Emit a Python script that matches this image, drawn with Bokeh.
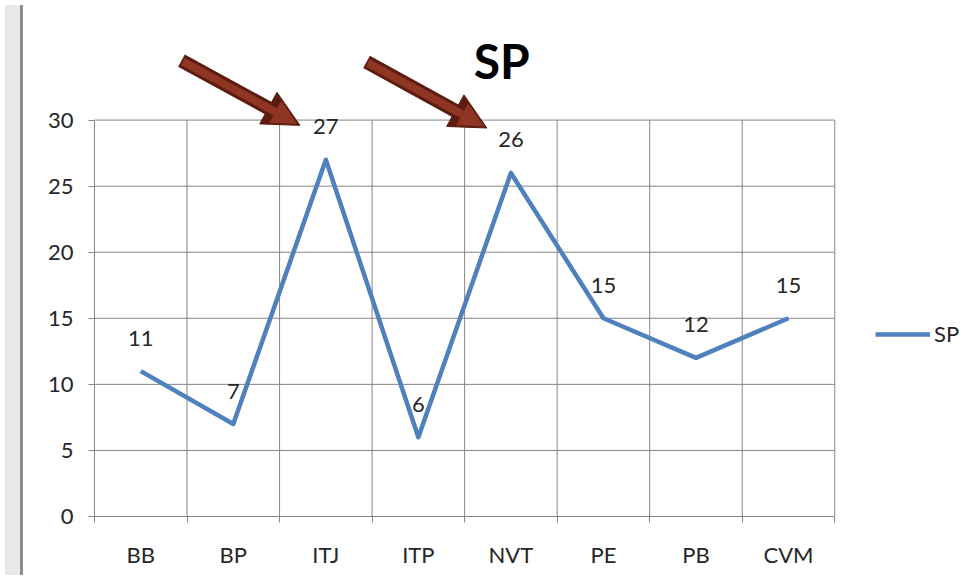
from bokeh.plotting import figure
from bokeh.models import (Range1d, FixedTicker, ColumnDataSource, LabelSet, Label,
                          Arrow, NormalHead, Legend, LegendItem, Div)
from bokeh.layouts import row
from bokeh.core.properties import value
from bokeh.embed import file_html
from bokeh.resources import INLINE

# ---- data ----
categories = ["BB", "BP", "ITJ", "ITP", "NVT", "PE", "PB", "CVM"]
sp_values = [11, 7, 27, 6, 26, 15, 12, 15]
y_ticks = [0, 5, 10, 15, 20, 25, 30]
series_name = "SP"
chart_title = "SP"

FONT = "Lato"
GRID = "#868686"
TXT = "#262626"

n = len(categories)
y_max = y_ticks[-1]
xpos = [i + 0.5 for i in range(n)]
src = ColumnDataSource(dict(x=xpos, y=sp_values, label=[str(v) for v in sp_values]))

# frame is extended beyond the data area so that the title, arrows and legend can be drawn
p = figure(width=946, height=570, output_backend="svg", toolbar_location=None, title=None,
           x_range=Range1d(0, 9.51), y_range=Range1d(0, 39.05),
           min_border_left=66, min_border_right=0, min_border_top=0,
           min_border_bottom=52)
p.background_fill_color = "white"
p.border_fill_color = "white"
p.outline_line_color = None
p.xgrid.visible = False
p.ygrid.visible = False

# gridlines (data area only)
bounds_x = list(range(n + 1))
gy = y_ticks[1:]
p.segment(x0=[0] * len(gy), x1=[n] * len(gy), y0=gy, y1=gy, line_color=GRID, line_width=1)
p.segment(x0=bounds_x[1:], x1=bounds_x[1:], y0=[0] * n, y1=[y_max] * n,
          line_color=GRID, line_width=1)

# x axis: labels at category centres, ticks at boundaries
p.xaxis.bounds = (0, n)
p.xaxis.ticker = FixedTicker(ticks=xpos, minor_ticks=bounds_x)
p.xaxis.major_label_overrides = {x: c for x, c in zip(xpos, categories)}
p.xaxis.major_tick_out = 0
p.xaxis.major_tick_in = 0
p.xaxis.minor_tick_out = 6
p.xaxis.minor_tick_in = 0
p.xaxis.minor_tick_line_color = GRID
p.xaxis.axis_line_color = GRID
p.xaxis.major_label_text_font = FONT
p.xaxis.major_label_text_font_size = "22px"
p.xaxis.major_label_text_color = TXT
p.xaxis.major_label_standoff = 18

p.yaxis.bounds = (0, y_max)
p.yaxis.ticker = FixedTicker(ticks=y_ticks)
p.yaxis.major_tick_out = 6
p.yaxis.major_tick_in = 0
p.yaxis.minor_tick_line_color = None
p.yaxis.major_tick_line_color = GRID
p.yaxis.axis_line_color = GRID
p.yaxis.major_label_text_font = FONT
p.yaxis.major_label_text_font_size = "22px"
p.yaxis.major_label_text_color = TXT
p.yaxis.major_label_standoff = 15

r = p.line("x", "y", source=src, line_color="#4f81bd", line_width=4.5, line_join="round")

labels = LabelSet(x="x", y="y", text="label", source=src, y_offset=33,
                  text_align="center", text_baseline="middle",
                  text_font=value(FONT), text_font_size="22px", text_color=TXT)
p.add_layout(labels)

p.add_layout(Label(x=4.4, y=34.5, text=chart_title, text_align="center",
                   text_baseline="middle", text_font=FONT,
                   text_font_size="48px", text_font_style="bold", text_color="black"))

# decorative arrows pointing at the two peaks
for (xs, ys, xe, ye) in [(0.94, 34.5, 2.22, 29.6), (2.94, 34.4, 4.24, 29.4)]:
    p.add_layout(Arrow(x_start=xs, y_start=ys, x_end=xe, y_end=ye,
                       line_color="#5c1b0e", line_width=14,
                       end=NormalHead(size=36, fill_color="#5c1b0e",
                                      line_color="#5c1b0e", line_width=1)))
    p.add_layout(Arrow(x_start=xs + 0.015, y_start=ys - 0.07, x_end=xe - 0.03, y_end=ye + 0.13,
                       line_color="#8e3524", line_width=8,
                       end=NormalHead(size=25, fill_color="#8e3524",
                                      line_color=None)))

legend = Legend(items=[LegendItem(label=series_name, renderers=[r])],
                location=(781, 169), glyph_width=55, glyph_height=20,
                label_standoff=4, padding=0, margin=0, border_line_color=None,
                background_fill_alpha=0, label_text_font=FONT,
                label_text_font_size="22px", label_text_color=TXT)
p.add_layout(legend)

strip = Div(width=18, height=570, text="",
            styles={"background-color": "#e8e8e8", "border-right": "3px solid #8c8c8c",
                    "box-sizing": "border-box"})

layout = row(strip, p)
open("out.html", "w").write(file_html(layout, INLINE))
